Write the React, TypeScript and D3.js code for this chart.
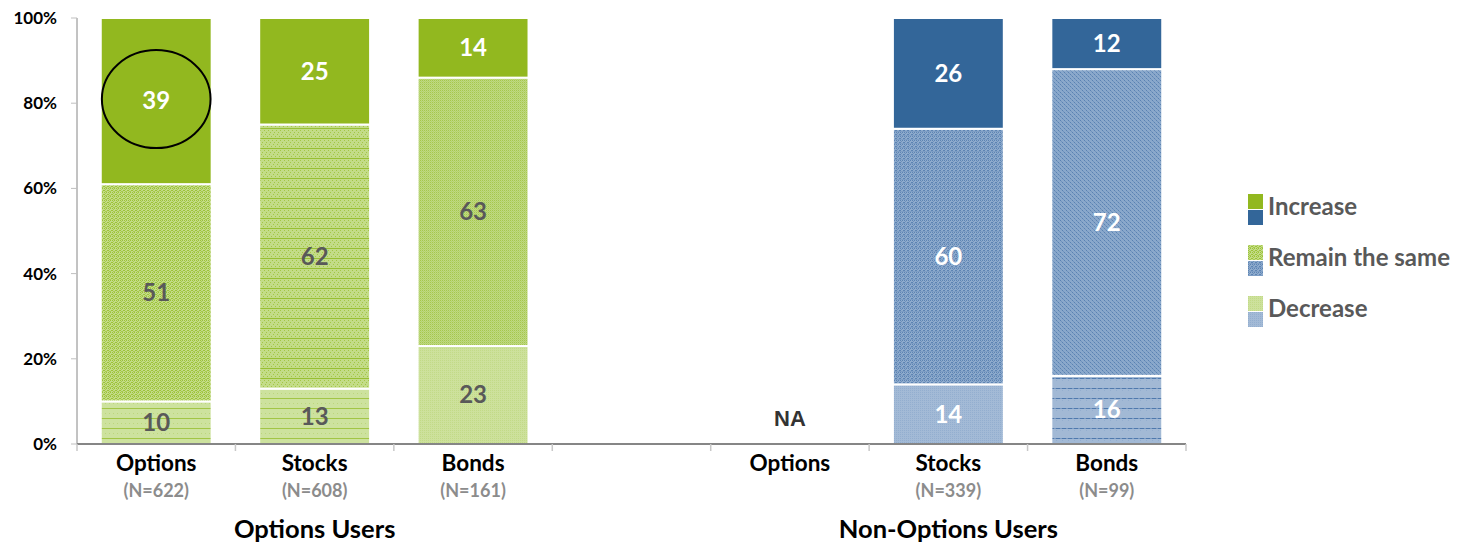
import React from "react";
import * as d3 from "d3";

// chart data
const categories = ["Options", "Stocks", "Bonds", "", "Options", "Stocks", "Bonds"];
const sampleSizes = ["(N=622)", "(N=608)", "(N=161)", "", "", "(N=339)", "(N=99)"];
const groupNames = ["Options Users", "Non-Options Users"];
const groupOf = [0, 0, 0, -1, 1, 1, 1];
const decreaseValues = [10, 13, 23, null, null, 14, 16];
const remainValues = [51, 62, 63, null, null, 60, 72];
const increaseValues = [39, 25, 14, null, null, 26, 12];
const seriesNames = ["Increase", "Remain the same", "Decrease"];
const yTicks = [0, 20, 40, 60, 80, 100];

const W = 1468;
const H = 544;
const margin = { left: 77, right: 282, top: 18, bottom: 100 };
const FONT = "Lato, 'Open Sans', sans-serif";

// which pattern each segment uses (per category index)
const decPattern = ["gLines", "gLines", "gLight", "", "", "bLight", "bLines"];
const remPattern = ["gDots", "gDotsLines", "gFine", "", "", "bGrid", "bDots"];

export default function App() {
  const keys = categories.map((c, i) => i + "-" + c);
  const x = d3
    .scaleBand<string>()
    .domain(keys)
    .range([margin.left, W - margin.right])
    .paddingInner(0.3)
    .paddingOuter(0.15);
  const y = d3.scaleLinear().domain([0, 100]).range([H - margin.bottom, margin.top]);
  const step = x.step();
  const x0 = margin.left;
  const x1 = x0 + step * categories.length;
  const base = y(0);

  const segs: any[] = [];
  categories.forEach((c, i) => {
    const g = groupOf[i];
    if (g < 0 || decreaseValues[i] == null) return;
    const d = decreaseValues[i] as number;
    const r = remainValues[i] as number;
    const inc = increaseValues[i] as number;
    const green = g === 0;
    segs.push({ i, lo: 0, hi: d, v: d, fill: `url(#${decPattern[i]})`, txt: green ? "#595959" : "#ffffff" });
    segs.push({ i, lo: d, hi: d + r, v: r, fill: `url(#${remPattern[i]})`, txt: green ? "#595959" : "#ffffff" });
    segs.push({ i, lo: d + r, hi: 100, v: inc, fill: green ? "#92b81f" : "#336699", txt: "#ffffff" });
  });

  const naIndex = categories.findIndex((c, i) => groupOf[i] === 1 && decreaseValues[i] == null);

  const groupCenters = groupNames.map((_, g) => {
    const idx = groupOf.map((v, i) => (v === g ? i : -1)).filter((i) => i >= 0);
    const a = x(keys[idx[0]])! - (step - x.bandwidth()) / 2;
    const b = x(keys[idx[idx.length - 1]])! + x.bandwidth() + (step - x.bandwidth()) / 2;
    return (a + b) / 2;
  });

  const legendSw: [string, string][] = [
    ["#92b81f", "#336699"],
    ["url(#gDots)", "url(#bGrid)"],
    ["url(#gLight)", "url(#bLight)"],
  ];
  const legendY = [207, 258, 309];

  const hl = increaseValues[0] as number;
  const hlLo = (decreaseValues[0] as number) + (remainValues[0] as number);

  return (
    <svg width={W} height={H} style={{ position: "absolute", left: 0, top: 0 }} fontFamily={FONT}>
      <defs>
        <pattern id="gDots" width="4" height="4" patternUnits="userSpaceOnUse">
          <rect width="4" height="4" fill="#c3dc88" />
          <rect x="0" y="0" width="1" height="1" fill="#9cc238" />
          <rect x="2" y="0" width="1" height="1" fill="#9cc238" />
          <rect x="1" y="1" width="1" height="1" fill="#a8ca4e" />
          <rect x="3" y="2" width="1" height="1" fill="#9cc238" />
          <rect x="0" y="2" width="1" height="1" fill="#9cc238" />
          <rect x="1" y="3" width="2" height="1" fill="#a8ca4e" />
        </pattern>
        <pattern id="gDotsLines" width="4" height="10" patternUnits="userSpaceOnUse">
          <rect width="4" height="10" fill="#c3dc88" />
          <rect x="0" y="0" width="1" height="1" fill="#a3c645" />
          <rect x="2" y="2" width="1" height="1" fill="#a3c645" />
          <rect x="1" y="4" width="1" height="1" fill="#a3c645" />
          <rect x="3" y="6" width="1" height="1" fill="#a3c645" />
          <rect x="0" y="8" width="4" height="1" fill="#98bf33" />
        </pattern>
        <pattern id="gLines" width="4" height="10" patternUnits="userSpaceOnUse">
          <rect width="4" height="10" fill="#cde29e" />
          <rect x="1" y="3" width="1" height="1" fill="#bcd67c" />
          <rect x="0" y="8" width="4" height="1" fill="#a2c545" />
        </pattern>
        <pattern id="gFine" width="2" height="2" patternUnits="userSpaceOnUse">
          <rect width="2" height="2" fill="#bfd981" />
          <rect x="0" y="0" width="1" height="1" fill="#a5c74c" />
          <rect x="1" y="1" width="1" height="1" fill="#b4d26c" />
        </pattern>
        <pattern id="gLight" width="2" height="2" patternUnits="userSpaceOnUse">
          <rect width="2" height="2" fill="#cde19c" />
          <rect x="0" y="0" width="1" height="1" fill="#c2da87" />
        </pattern>
        <pattern id="bGrid" width="4" height="4" patternUnits="userSpaceOnUse">
          <rect width="4" height="4" fill="#8eabcd" />
          <rect x="0" y="0" width="1" height="1" fill="#5d84b3" />
          <rect x="2" y="0" width="1" height="1" fill="#5d84b3" />
          <rect x="1" y="1" width="1" height="1" fill="#6f91bb" />
          <rect x="0" y="2" width="1" height="1" fill="#5d84b3" />
          <rect x="3" y="2" width="1" height="1" fill="#5d84b3" />
          <rect x="0" y="3" width="4" height="1" fill="#7d9dc4" />
        </pattern>
        <pattern id="bDots" width="4" height="4" patternUnits="userSpaceOnUse">
          <rect width="4" height="4" fill="#8aa8cb" />
          <rect x="0" y="0" width="1" height="1" fill="#5a82b2" />
          <rect x="2" y="2" width="1" height="1" fill="#5a82b2" />
          <rect x="1" y="1" width="1" height="1" fill="#7094be" />
          <rect x="3" y="3" width="1" height="1" fill="#7094be" />
        </pattern>
        <pattern id="bLight" width="2" height="2" patternUnits="userSpaceOnUse">
          <rect width="2" height="2" fill="#a3bad6" />
          <rect x="0" y="0" width="1" height="1" fill="#93aecf" />
        </pattern>
        <pattern id="bLines" width="6" height="10" patternUnits="userSpaceOnUse">
          <rect width="6" height="10" fill="#a2b9d5" />
          <rect x="0" y="0" width="1" height="1" fill="#93aecf" />
          <rect x="0" y="8" width="4" height="1" fill="#4f79ad" />
          <rect x="4" y="8" width="2" height="1" fill="#7b9bc3" />
        </pattern>
      </defs>

      {/* bars */}
      {segs.map((s, k) => (
        <g key={k}>
          <rect
            x={x(keys[s.i])}
            y={y(s.hi)}
            width={x.bandwidth()}
            height={y(s.lo) - y(s.hi)}
            fill={s.fill}
            stroke="#ffffff"
            strokeWidth={2}
          />
          <text
            x={x(keys[s.i])! + x.bandwidth() / 2}
            y={y((s.lo + s.hi) / 2)}
            dy="0.35em"
            textAnchor="middle"
            fontSize={24}
            fontWeight="bold"
            fill={s.txt}
          >
            {s.v}
          </text>
        </g>
      ))}

      {/* highlight around first increase value */}
      <ellipse
        cx={x(keys[0])! + x.bandwidth() / 2}
        cy={y(hlLo + hl / 2) - 2}
        rx={x.bandwidth() * 0.49}
        ry={49}
        fill="none"
        stroke="#000000"
        strokeWidth={2}
      />

      {/* NA label */}
      {naIndex >= 0 && (
        <text
          x={x(keys[naIndex])! + x.bandwidth() / 2}
          y={y(6)}
          dy="0.35em"
          textAnchor="middle"
          fontSize={22}
          fontWeight="bold"
          fill="#333333"
          fontFamily="'Liberation Sans', Arial, sans-serif"
        >
          NA
        </text>
      )}

      {/* y axis */}
      <line x1={x0} x2={x0} y1={y(100)} y2={base} stroke="#868686" strokeWidth={1} />
      {yTicks.map((t) => (
        <g key={t}>
          <line x1={x0 - 6} x2={x0} y1={y(t)} y2={y(t)} stroke="#bfbfbf" />
          <text x={57} y={y(t)} dy="0.35em" textAnchor="end" fontSize={17} fontWeight="bold" fill="#000">
            {t}%
          </text>
        </g>
      ))}

      {/* x axis */}
      <line x1={x0} x2={x1} y1={base} y2={base} stroke="#868686" strokeWidth={2} />
      {d3.range(categories.length + 1).map((i) => (
        <line key={i} x1={x0 + i * step} x2={x0 + i * step} y1={base} y2={base + 7} stroke="#c8c8c8" strokeWidth={1.5} />
      ))}
      {categories.map((c, i) => (
        <g key={"c" + i}>
          <text x={x(keys[i])! + x.bandwidth() / 2} y={471} textAnchor="middle" fontSize={22.5} fontWeight="bold" fill="#000">
            {c}
          </text>
          <text x={x(keys[i])! + x.bandwidth() / 2} y={497} textAnchor="middle" fontSize={18} fontWeight="bold" fill="#8c8c8c">
            {sampleSizes[i]}
          </text>
        </g>
      ))}
      {groupNames.map((g, i) => (
        <text key={g} x={groupCenters[i]} y={538} textAnchor="middle" fontSize={25.5} fontWeight="bold" fill="#000">
          {g}
        </text>
      ))}

      {/* legend */}
      {seriesNames.map((n, i) => (
        <g key={n}>
          <rect x={1248} y={legendY[i] - 13} width={15} height={15} fill={legendSw[i][0]} />
          <rect x={1248} y={legendY[i] + 3} width={15} height={15} fill={legendSw[i][1]} />
          <text x={1268} y={legendY[i]} dy="0.35em" fontSize={24} fontWeight="bold" fill="#595959">
            {n}
          </text>
        </g>
      ))}
    </svg>
  );
}
